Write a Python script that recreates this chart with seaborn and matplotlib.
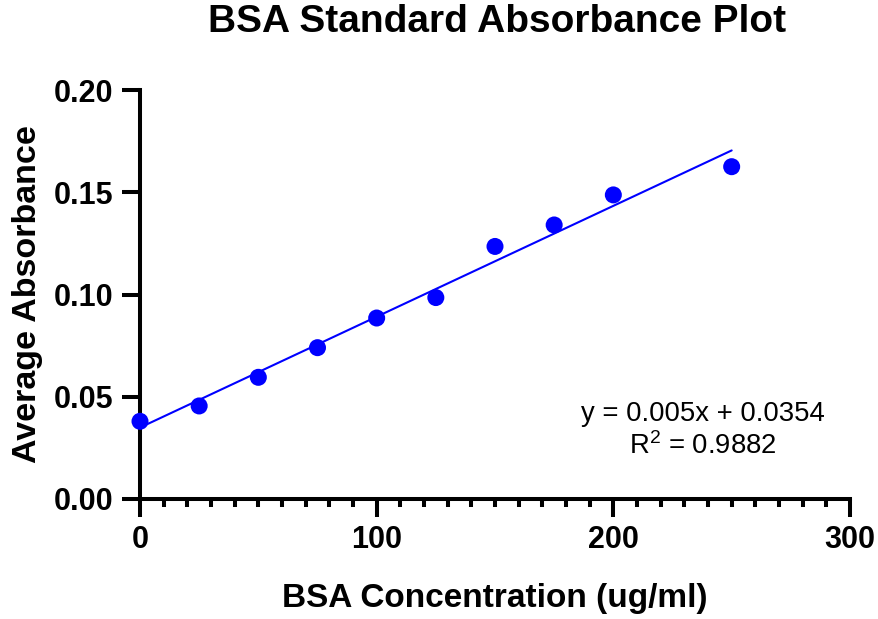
import numpy as np
import pandas as pd
import matplotlib
matplotlib.use("Agg")
import matplotlib.pyplot as plt
import seaborn as sns
from matplotlib.ticker import MultipleLocator

# BSA standard curve readings
concentration = [0, 25, 50, 75, 100, 125, 150, 175, 200, 250]
absorbance = [0.038, 0.0455, 0.0595, 0.074, 0.0885, 0.0985, 0.1235, 0.134, 0.1487, 0.1625]

x_ticks = [0, 100, 200, 300]
y_ticks = [0.00, 0.05, 0.10, 0.15, 0.20]
y_tick_labels = ["0.00", "0.05", "0.10", "0.15", "0.20"]

equation_text = "y = 0.005x + 0.0354"
r2_text = "R$^2$ = 0.9882"

df = pd.DataFrame({"conc": concentration, "abs": absorbance})

sns.set_style("ticks")
plt.rcParams["font.family"] = ["Liberation Sans", "DejaVu Sans"]
plt.rcParams["mathtext.fontset"] = "custom"
plt.rcParams["mathtext.rm"] = "Liberation Sans"
plt.rcParams["mathtext.it"] = "Liberation Sans:italic"
plt.rcParams["mathtext.bf"] = "Liberation Sans:bold"
plt.rcParams["text.color"] = "black"
plt.rcParams["axes.labelcolor"] = "black"
plt.rcParams["xtick.color"] = "black"
plt.rcParams["ytick.color"] = "black"

W, H = 879, 619
fig = plt.figure(figsize=(W / 100, H / 100), dpi=100)
ax = fig.add_axes([140 / W, 1 - 499 / H, 710 / W, 409 / H])

blue = "#0000FF"
sns.regplot(
    data=df, x="conc", y="abs", ax=ax, ci=None, truncate=True,
    scatter_kws=dict(s=150, color=blue, alpha=1, edgecolor="none", clip_on=False, zorder=4),
    line_kws=dict(color=blue, lw=1.5, zorder=3),
)

ax.set_xlim(0, 300)
ax.set_ylim(0, 0.20)
ax.set_xticks(x_ticks)
ax.set_xticklabels([str(t) for t in x_ticks])
ax.xaxis.set_minor_locator(MultipleLocator(10))
ax.set_yticks(y_ticks)
ax.set_yticklabels(y_tick_labels)

for side in ("top", "right"):
    ax.spines[side].set_visible(False)
for side in ("left", "bottom"):
    ax.spines[side].set_linewidth(2.9)
    ax.spines[side].set_color("black")

ax.tick_params(axis="both", which="major", length=13, width=2.9, color="black",
               labelcolor="black", labelsize=22, pad=6)
ax.tick_params(axis="x", which="minor", length=6, width=2.9, color="black")
for lbl in ax.get_xticklabels() + ax.get_yticklabels():
    lbl.set_fontweight("bold")

ax.set_xlabel("BSA Concentration (ug/ml)", fontsize=24, fontweight="bold",
              labelpad=20, color="black")
ax.set_ylabel("Average Absorbance", fontsize=24.5, fontweight="bold",
              labelpad=8, color="black")

fig.text(497 / W, 1 - 32 / H, "BSA Standard Absorbance Plot", ha="center",
         va="baseline", fontsize=28, fontweight="bold", color="black")

ax.text(238, 0.0383, equation_text, ha="center", va="baseline", fontsize=19.8,
        color="black")
ax.text(238, 0.0222, r2_text, ha="center", va="baseline", fontsize=19.8,
        color="black")

fig.savefig("out.png", dpi=100)
